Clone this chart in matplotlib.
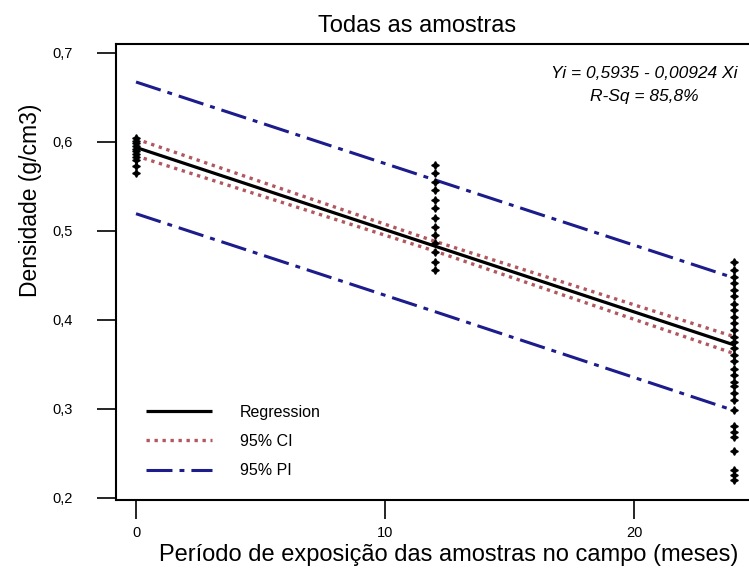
import matplotlib
matplotlib.use("Agg")
import matplotlib.pyplot as plt

plt.rcParams['font.family'] = ['Liberation Sans', 'DejaVu Sans']

# Densidade (g/cm3) observada em cada período de exposição (meses)
meses_0 = [0] * 11
dens_0 = [0.604, 0.601, 0.598, 0.595, 0.592, 0.589, 0.586, 0.583, 0.579, 0.573, 0.565]

meses_12 = [12] * 13
dens_12 = [0.574, 0.565, 0.555, 0.546, 0.534, 0.525, 0.514, 0.504, 0.495,
           0.486, 0.476, 0.465, 0.456]

meses_24 = [24] * 30
dens_24 = [0.465, 0.456, 0.448, 0.441, 0.433, 0.426, 0.418, 0.411, 0.403, 0.396,
           0.388, 0.381, 0.375, 0.368, 0.360, 0.353, 0.345, 0.338, 0.330, 0.325,
           0.317, 0.310, 0.298, 0.280, 0.274, 0.268, 0.252, 0.231, 0.225, 0.220]

# Reta ajustada: Yi = 0,5935 - 0,00924 Xi
intercepto = 0.5935
inclinacao = -0.00924
r_sq = 85.8
x_reta = [0, 24]

# Limites dos intervalos de 95 %
x_int = [0, 12, 24]
ic_sup = [0.603, 0.488, 0.381]
ic_inf = [0.584, 0.477, 0.362]
ip_sup = [0.667, 0.557, 0.447]
ip_inf = [0.519, 0.409, 0.298]

x_ticks = [0, 10, 20]
y_ticks = [0.2, 0.3, 0.4, 0.5, 0.6, 0.7]
y_tick_labels = ['0,2', '0,3', '0,4', '0,5', '0,6', '0,7']

W, H = 749, 569
fig = plt.figure(figsize=(W / 100, H / 100), dpi=100)
ax = fig.add_axes([116.1 / W, (H - 500) / H, (763.5 - 116.1) / W, 456 / H])
ax.set_xlim(-0.8, 25.2)
ax.set_ylim(0.1973, 0.7097)

y_reta = [intercepto + inclinacao * x for x in x_reta]
linha_reg, = ax.plot(x_reta, y_reta, color='black', lw=2.3, solid_capstyle='butt',
                     label='Regression', zorder=3)

cor_ic = '#a33a44'
estilo_ic = (0, (1.0, 1.4))
linha_ic, = ax.plot(x_int, ic_sup, color=cor_ic, lw=2.4, linestyle=estilo_ic,
                    label='95% CI', zorder=4, alpha=0.85)
ax.plot(x_int, ic_inf, color=cor_ic, lw=2.4, linestyle=estilo_ic, zorder=4, alpha=0.85)

cor_ip = '#1c1c8c'
estilo_ip = (0, (8.5, 2.3, 1.6, 2.3))
linha_ip, = ax.plot(x_int, ip_sup, color=cor_ip, lw=2.2, linestyle=estilo_ip,
                    label='95% PI', zorder=3)
ax.plot(x_int, ip_inf, color=cor_ip, lw=2.2, linestyle=estilo_ip, zorder=3)

marcador = dict(marker=(4, 1, 0), color='black', markersize=5.5, linestyle='none', zorder=5)
ax.plot(meses_0, dens_0, **marcador)
ax.plot(meses_12, dens_12, **marcador)
ax.plot(meses_24, dens_24, **marcador)

# Moldura e marcas dos eixos
for lado in ['left', 'bottom', 'top', 'right']:
    ax.spines[lado].set_linewidth(1.5)
ax.set_xticks(x_ticks)
ax.set_xticklabels([str(t) for t in x_ticks])
ax.set_yticks(y_ticks)
ax.set_yticklabels(y_tick_labels)
ax.tick_params(axis='both', direction='out', length=14, width=1.2, labelsize=10.5,
               colors='black')
ax.tick_params(axis='y', pad=17)
ax.tick_params(axis='x', pad=5)

leg = ax.legend(handles=[linha_reg, linha_ic, linha_ip], loc='lower left',
                bbox_to_anchor=(0.034, 0.03), frameon=False, fontsize=11.5,
                handlelength=4.1, handletextpad=1.75, labelspacing=0.9,
                borderpad=0)

fig.text(417 / W, 1 - 26 / H, 'Todas as amostras', ha='center', va='center', fontsize=17)
fig.text(449 / W, 1 - 555 / H, 'Período de exposição das amostras no campo (meses)',
         ha='center', va='center', fontsize=17)
fig.text(31 / W, 1 - 200 / H, 'Densidade (g/cm3)', ha='center', va='center',
         rotation=90, fontsize=16.5)

eq = f'Yi = {intercepto:.4f} - {abs(inclinacao):.5f} Xi'.replace('.', ',')
rq = f'R-Sq = {r_sq:.1f}%'.replace('.', ',')
fig.text(644 / W, 1 - 73 / H, eq, ha='center', va='center', fontsize=12.5, style='italic')
fig.text(644 / W, 1 - 97 / H, rq, ha='center', va='center', fontsize=12.5, style='italic')

fig.savefig('out.png', dpi=100)
